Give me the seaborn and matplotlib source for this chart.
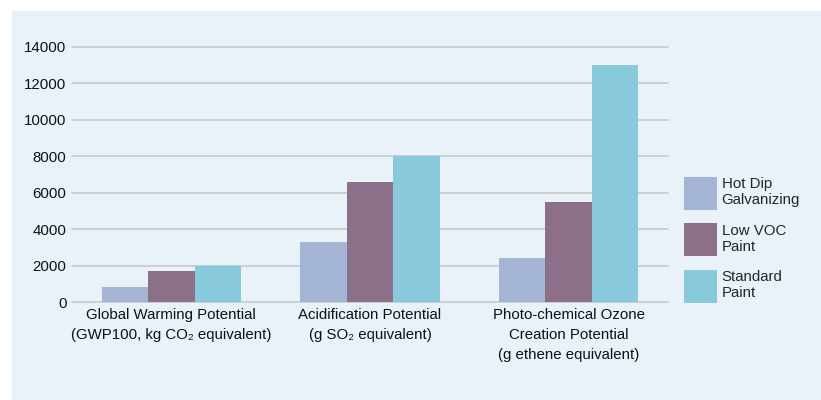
import matplotlib
matplotlib.use("Agg")
import matplotlib.pyplot as plt
from matplotlib.patches import Rectangle, Patch
import seaborn as sns
import pandas as pd

categories = [
    "Global Warming Potential\n(GWP100, kg CO\u2082 equivalent)",
    "Acidification Potential\n(g SO\u2082 equivalent)",
    "Photo-chemical Ozone\nCreation Potential\n(g ethene equivalent)",
]
series_names = ["Hot Dip\nGalvanizing", "Low VOC\nPaint", "Standard\nPaint"]
hot_dip = [800, 3300, 2400]
low_voc = [1700, 6600, 5500]
standard = [2000, 8000, 13000]
y_ticks = [0, 2000, 4000, 6000, 8000, 10000, 12000, 14000]
colors = ["#a4b4d4", "#8c7089", "#88c9dc"]

rows = []
for name, vals in zip(series_names, [hot_dip, low_voc, standard]):
    for c, v in zip(categories, vals):
        rows.append({"category": c, "series": name, "value": v})
df = pd.DataFrame(rows)

sns.set_theme(style="white")
plt.rcParams["font.family"] = ["Liberation Sans", "DejaVu Sans"]

FS = 10.8
bg = "#eaf2f9"
fig = plt.figure(figsize=(8.21, 4.0), dpi=100)
fig.patch.set_facecolor("white")
fig.patches.append(Rectangle((12 / 821, 0), 1, 1 - 11 / 400, transform=fig.transFigure,
                             facecolor=bg, edgecolor="none", zorder=-10))

ax = fig.add_axes([72 / 821, 1 - 302 / 400, (668 - 72) / 821, (302 - 47) / 400])
ax.set_facecolor("none")

sns.barplot(data=df, x="category", y="value", hue="series", order=categories,
            hue_order=series_names, palette=colors, width=0.7, linewidth=0,
            saturation=1, ax=ax, legend=False)

ax.set_xlim(-0.5, 2.5)
ax.set_ylim(0, 14000)
ax.set_yticks(y_ticks)
ax.set_yticklabels([str(t) for t in y_ticks])
ax.yaxis.grid(True, color="#c6c9cc", linewidth=1.2)
ax.set_axisbelow(True)
for s in ax.spines.values():
    s.set_visible(False)
for gl in ax.get_ygridlines():
    gl.set_clip_on(False)
ax.set_xlabel("")
ax.set_ylabel("")
ax.tick_params(axis="both", length=0, labelsize=FS, colors="#111111")
ax.tick_params(axis="y", pad=4)
ax.tick_params(axis="x", pad=4)
for t in ax.get_xticklabels():
    t.set_linespacing(1.58)

handles = [Patch(facecolor=c, edgecolor="none") for c in colors]
fig.legend(handles, series_names, loc="upper left",
           bbox_to_anchor=(684 / 821, 1 - 177 / 400), frameon=False,
           fontsize=FS, handlelength=2.2, handleheight=3.0,
           labelspacing=0.9, handletextpad=0.3, borderpad=0, borderaxespad=0)

fig.savefig("out.png", dpi=100, facecolor=fig.get_facecolor())
